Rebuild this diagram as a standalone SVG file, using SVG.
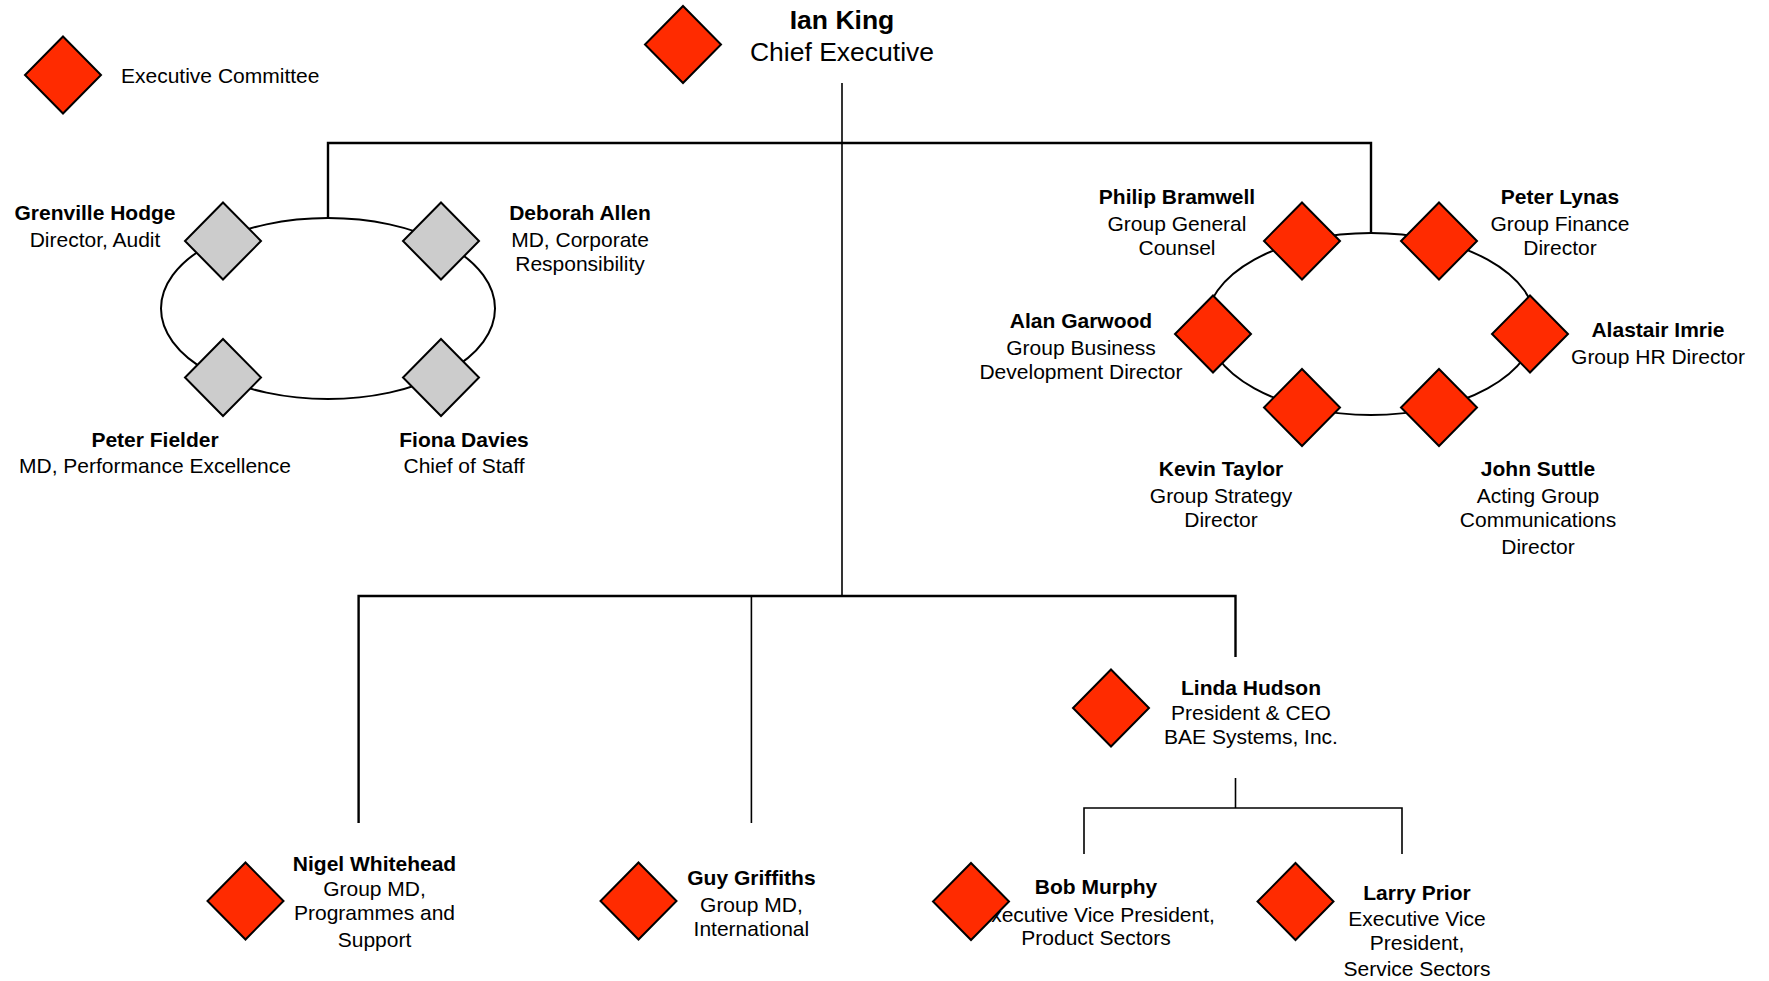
<svg xmlns="http://www.w3.org/2000/svg" width="1769" height="981" viewBox="0 0 1769 981">
<style>
text{font-family:"Liberation Sans",Arial,sans-serif;font-size:21px;fill:#000;text-anchor:middle}
.b{font-weight:bold}
.big{font-size:26.5px}
.red{fill:#FF2B00;stroke:#000;stroke-width:2}
.gray{fill:#CCCCCC;stroke:#000;stroke-width:2}
.ln{fill:none;stroke:#000;stroke-width:1.6}
.ln2{fill:none;stroke:#000;stroke-width:2.4}
.ring{fill:none;stroke:#000;stroke-width:2}
</style>
<defs>
<polygon id="dm" points="0,-38.5 38,0 0,38.5 -38,0"/>
</defs>
<rect width="1769" height="981" fill="#fff"/>

<g id="connectors">
<line class="ln" x1="842" y1="83" x2="842" y2="596"/>
<polyline class="ln2" points="328,218 328,143 1371,143 1371,234"/>
<polyline class="ln2" points="358.6,823 358.6,596 1235.5,596 1235.5,657"/>
<line class="ln" x1="751.4" y1="596" x2="751.4" y2="823"/>
<line class="ln" x1="1235.5" y1="778" x2="1235.5" y2="808"/>
<polyline class="ln" points="1084,854 1084,808 1402,808 1402,854"/>
<ellipse class="ring" cx="328" cy="308.5" rx="167" ry="90.5"/>
<ellipse class="ring" cx="1371" cy="324" rx="165" ry="91"/>
</g>

<g id="legend">
<use href="#dm" class="red" x="63" y="75"/>
<text x="121" y="83" style="text-anchor:start">Executive Committee</text>
</g>

<g id="ian-king">
<use href="#dm" class="red" x="683" y="44.5"/>
<text class="b big" x="842" y="29">Ian King</text>
<text class="big" x="842" y="61">Chief Executive</text>
</g>

<g id="grenville-hodge">
<use href="#dm" class="gray" x="223" y="241"/>
<text class="b" x="95" y="220">Grenville Hodge</text>
<text x="95" y="247">Director, Audit</text>
</g>
<g id="deborah-allen">
<use href="#dm" class="gray" x="441" y="241"/>
<text class="b" x="580" y="220">Deborah Allen</text>
<text x="580" y="247">MD, Corporate</text>
<text x="580" y="271">Responsibility</text>
</g>
<g id="peter-fielder">
<use href="#dm" class="gray" x="223" y="377.5"/>
<text class="b" x="155" y="447">Peter Fielder</text>
<text x="155" y="473">MD, Performance Excellence</text>
</g>
<g id="fiona-davies">
<use href="#dm" class="gray" x="441" y="377.5"/>
<text class="b" x="464" y="447">Fiona Davies</text>
<text x="464" y="473">Chief of Staff</text>
</g>

<g id="philip-bramwell">
<use href="#dm" class="red" x="1302" y="241"/>
<text class="b" x="1177" y="204">Philip Bramwell</text>
<text x="1177" y="231">Group General</text>
<text x="1177" y="255">Counsel</text>
</g>
<g id="peter-lynas">
<use href="#dm" class="red" x="1439" y="241"/>
<text class="b" x="1560" y="204">Peter Lynas</text>
<text x="1560" y="231">Group Finance</text>
<text x="1560" y="255">Director</text>
</g>
<g id="alan-garwood">
<use href="#dm" class="red" x="1213" y="334"/>
<text class="b" x="1081" y="328">Alan Garwood</text>
<text x="1081" y="355">Group Business</text>
<text x="1081" y="379">Development Director</text>
</g>
<g id="alastair-imrie">
<use href="#dm" class="red" x="1530" y="334"/>
<text class="b" x="1658" y="337">Alastair Imrie</text>
<text x="1658" y="364">Group HR Director</text>
</g>
<g id="kevin-taylor">
<use href="#dm" class="red" x="1302" y="407.5"/>
<text class="b" x="1221" y="476">Kevin Taylor</text>
<text x="1221" y="503">Group Strategy</text>
<text x="1221" y="527">Director</text>
</g>
<g id="john-suttle">
<use href="#dm" class="red" x="1439" y="407.5"/>
<text class="b" x="1538" y="476">John Suttle</text>
<text x="1538" y="503">Acting Group</text>
<text x="1538" y="527">Communications</text>
<text x="1538" y="554">Director</text>
</g>

<g id="linda-hudson">
<use href="#dm" class="red" x="1111" y="708"/>
<text class="b" x="1251" y="695">Linda Hudson</text>
<text x="1251" y="720">President &amp; CEO</text>
<text x="1251" y="744">BAE Systems, Inc.</text>
</g>

<g id="nigel-whitehead">
<use href="#dm" class="red" x="245.5" y="901"/>
<text class="b" x="374.5" y="871">Nigel Whitehead</text>
<text x="374.5" y="896">Group MD,</text>
<text x="374.5" y="920">Programmes and</text>
<text x="374.5" y="947">Support</text>
</g>
<g id="guy-griffiths">
<use href="#dm" class="red" x="638.5" y="901"/>
<text class="b" x="751.4" y="885">Guy Griffiths</text>
<text x="751.4" y="912">Group MD,</text>
<text x="751.4" y="936">International</text>
</g>
<g id="bob-murphy">
<text class="b" x="1096" y="894">Bob Murphy</text>
<text x="1096" y="922">Executive Vice President,</text>
<text x="1096" y="945">Product Sectors</text>
<use href="#dm" class="red" x="971" y="901.5"/>
</g>
<g id="larry-prior">
<use href="#dm" class="red" x="1295.5" y="901.5"/>
<text class="b" x="1417" y="900">Larry Prior</text>
<text x="1417" y="926">Executive Vice</text>
<text x="1417" y="950">President,</text>
<text x="1417" y="976">Service Sectors</text>
</g>
</svg>
